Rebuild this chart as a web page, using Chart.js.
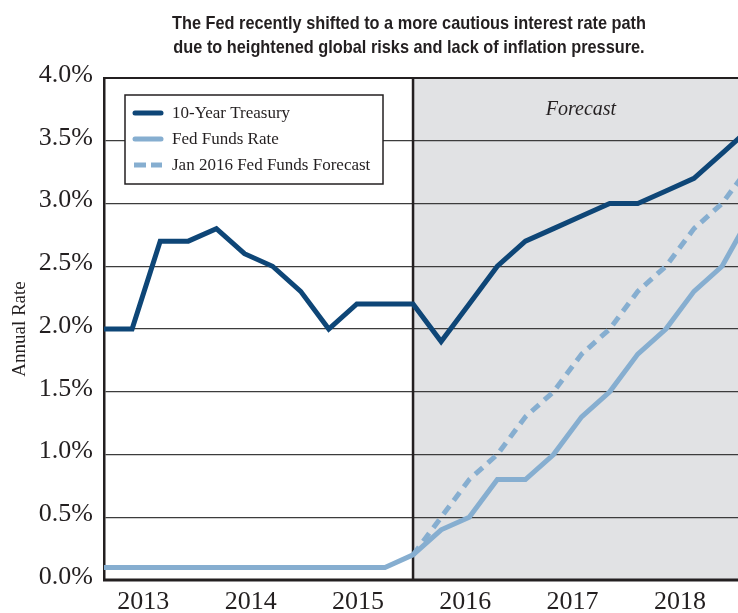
<!DOCTYPE html>
<html>
<head>
<meta charset="utf-8">
<script src="https://cdn.jsdelivr.net/npm/chart.js@4.4.1/dist/chart.umd.min.js"></script>
<style>
  html, body { margin: 0; padding: 0; background: #fff; overflow: hidden; width: 738px; height: 613px; }
  #wrap { position: absolute; left: 0; top: 0; width: 760px; height: 613px; }
</style>
</head>
<body>
<div id="wrap"><canvas id="c" width="760" height="613"></canvas></div>
<script>
// ---- Data (quarterly, starting Q1 2013) ----
const quarters = ['2013Q1','2013Q2','2013Q3','2013Q4','2014Q1','2014Q2','2014Q3','2014Q4',
                  '2015Q1','2015Q2','2015Q3','2015Q4','2016Q1','2016Q2','2016Q3','2016Q4',
                  '2017Q1','2017Q2','2017Q3','2017Q4','2018Q1','2018Q2','2018Q3','2018Q4'];
const tenYearTreasury = [2.0, 2.0, 2.7, 2.7, 2.8, 2.6, 2.5, 2.3, 2.0, 2.2, 2.2, 2.2,
                         1.9, 2.2, 2.5, 2.7, 2.8, 2.9, 3.0, 3.0, 3.1, 3.2, 3.4, 3.6];
const fedFundsRate = [0.1, 0.1, 0.1, 0.1, 0.1, 0.1, 0.1, 0.1, 0.1, 0.1, 0.1, 0.2,
                      0.4, 0.5, 0.8, 0.8, 1.0, 1.3, 1.5, 1.8, 2.0, 2.3, 2.5, 2.9];
const jan2016Forecast = [null, null, null, null, null, null, null, null, null, null, null, 0.2,
                         0.5, 0.8, 1.0, 1.3, 1.5, 1.8, 2.0, 2.3, 2.5, 2.8, 3.0, 3.3];
const yearLabels = ['2013', '2014', '2015', '2016', '2017', '2018'];
const forecastStartIndex = 11;
const titleLines = ['The Fed recently shifted to a more cautious interest rate path',
                    'due to heightened global risks and lack of inflation pressure.'];

// ---- Styling / layout ----
const NAVY = '#0e4677';
const LIGHT = '#86aed0';
const INK = '#231f20';
const SHADE = '#e1e2e4';
const SERIF = '"Liberation Serif", "Times New Roman", serif';
const yearTickStart = 1.4, yearTickStep = 3.82;

const toPoints = arr => arr.map((v, i) => ({ x: i, y: v }));

const bgPlugin = {
  id: 'bg',
  beforeDraw(chart) {
    const { ctx, chartArea: a, scales: { x } } = chart;
    ctx.save();
    ctx.fillStyle = '#fff';
    ctx.fillRect(0, 0, chart.width, chart.height);
    const fx = x.getPixelForValue(forecastStartIndex);
    ctx.fillStyle = SHADE;
    ctx.fillRect(fx, a.top, a.right - fx, a.bottom - a.top);
    ctx.restore();
  },
  beforeDatasetsDraw(chart) {
    const { ctx, chartArea: a, scales: { x } } = chart;
    const fx = x.getPixelForValue(forecastStartIndex);
    ctx.save();
    ctx.strokeStyle = INK;
    ctx.lineWidth = 2.5;
    ctx.beginPath();
    ctx.moveTo(fx, a.top); ctx.lineTo(fx, a.bottom);
    ctx.stroke();
    ctx.lineWidth = 2.2;
    ctx.beginPath();
    ctx.moveTo(a.left, a.top); ctx.lineTo(a.right, a.top);
    ctx.stroke();
    ctx.lineWidth = 3;
    ctx.beginPath();
    ctx.moveTo(a.left - 1, a.bottom); ctx.lineTo(a.right, a.bottom);
    ctx.stroke();
    ctx.restore();
  },
  afterDraw(chart) {
    const { ctx, scales: { x } } = chart;
    ctx.save();
    // Title
    ctx.fillStyle = INK;
    ctx.font = 'bold 19px "Liberation Sans", Arial, sans-serif';
    ctx.textAlign = 'center';
    ctx.textBaseline = 'alphabetic';
    const w1 = ctx.measureText(titleLines[0]).width;
    const sx = 474 / w1;
    const cx = 409;
    [29, 53].forEach((by, i) => {
      ctx.save();
      ctx.translate(cx, by);
      ctx.scale(sx, 1);
      ctx.fillText(titleLines[i], 0, 0);
      ctx.restore();
    });
    // Forecast label
    ctx.font = 'italic 20px ' + SERIF;
    ctx.textBaseline = 'middle';
    const fx = x.getPixelForValue(forecastStartIndex);
    ctx.fillText('Forecast', 581, 110);
    // Legend
    const bx = 125, by = 95, bw = 258, bh = 89;
    ctx.fillStyle = '#fff';
    ctx.fillRect(bx, by, bw, bh);
    ctx.strokeStyle = INK;
    ctx.lineWidth = 1.5;
    ctx.strokeRect(bx, by, bw, bh);
    const rows = [113, 139, 165];
    chart.data.datasets.forEach((ds, i) => {
      const y = rows[i];
      ctx.strokeStyle = ds.borderColor;
      ctx.lineWidth = 5;
      ctx.lineCap = 'round';
      ctx.setLineDash([]);
      if (ds.borderDash && ds.borderDash.length) {
        ctx.lineCap = 'butt';
        ctx.beginPath(); ctx.moveTo(134, y); ctx.lineTo(146, y); ctx.stroke();
        ctx.beginPath(); ctx.moveTo(151, y); ctx.lineTo(162, y); ctx.stroke();
      } else {
        ctx.beginPath(); ctx.moveTo(135, y); ctx.lineTo(161, y); ctx.stroke();
      }
      ctx.fillStyle = INK;
      ctx.font = '17px ' + SERIF;
      ctx.textAlign = 'left';
      ctx.textBaseline = 'middle';
      ctx.fillText(ds.label, 172, y + 1);
    });
    ctx.restore();
  }
};

new Chart(document.getElementById('c'), {
  type: 'line',
  data: {
    labels: quarters,
    datasets: [
      { label: '10-Year Treasury', data: toPoints(tenYearTreasury), borderColor: NAVY,
        borderWidth: 5, pointRadius: 0, tension: 0, fill: false },
      { label: 'Fed Funds Rate', data: toPoints(fedFundsRate), borderColor: LIGHT,
        borderWidth: 5, pointRadius: 0, tension: 0, fill: false },
      { label: 'Jan 2016 Fed Funds Forecast', data: toPoints(jan2016Forecast), borderColor: LIGHT,
        borderWidth: 5, borderDash: [10, 7], pointRadius: 0, tension: 0, fill: false, spanGaps: false }
    ]
  },
  options: {
    responsive: false,
    animation: false,
    devicePixelRatio: 1,
    layout: { padding: { top: 78, right: 0, bottom: 0, left: 0 } },
    plugins: { legend: { display: false }, title: { display: false }, tooltip: { enabled: false } },
    scales: {
      x: {
        type: 'linear',
        min: 0,
        max: 23.35,
        afterBuildTicks(scale) {
          scale.ticks = yearLabels.map((_, i) => ({ value: yearTickStart + i * yearTickStep }));
        },
        afterFit(scale) { scale.height = 33; },
        grid: { display: false, drawTicks: false },
        border: { display: false },
        ticks: {
          autoSkip: false, maxRotation: 0, padding: 7, color: INK,
          font: { family: SERIF, size: 26 },
          callback: (v, i) => yearLabels[i]
        }
      },
      y: {
        min: 0,
        max: 4,
        afterFit(scale) { scale.width = 104; },
        grid: {
          drawTicks: false,
          color: ctx => (ctx.tick && (ctx.tick.value === 0 || ctx.tick.value === 4)) ? INK : '#3c3c3c',
          lineWidth: 1.3
        },
        border: { display: true, color: INK, width: 2.5 },
        ticks: {
          stepSize: 0.5, padding: 11, color: INK, labelOffset: -3,
          font: { family: SERIF, size: 26 },
          callback: v => v.toFixed(1) + '%'
        },
        title: {
          display: true, text: 'Annual Rate', color: INK,
          font: { family: SERIF, size: 19 },
          padding: { top: 9, bottom: 0 }
        }
      }
    }
  },
  plugins: [bgPlugin]
});
</script>
</body>
</html>
